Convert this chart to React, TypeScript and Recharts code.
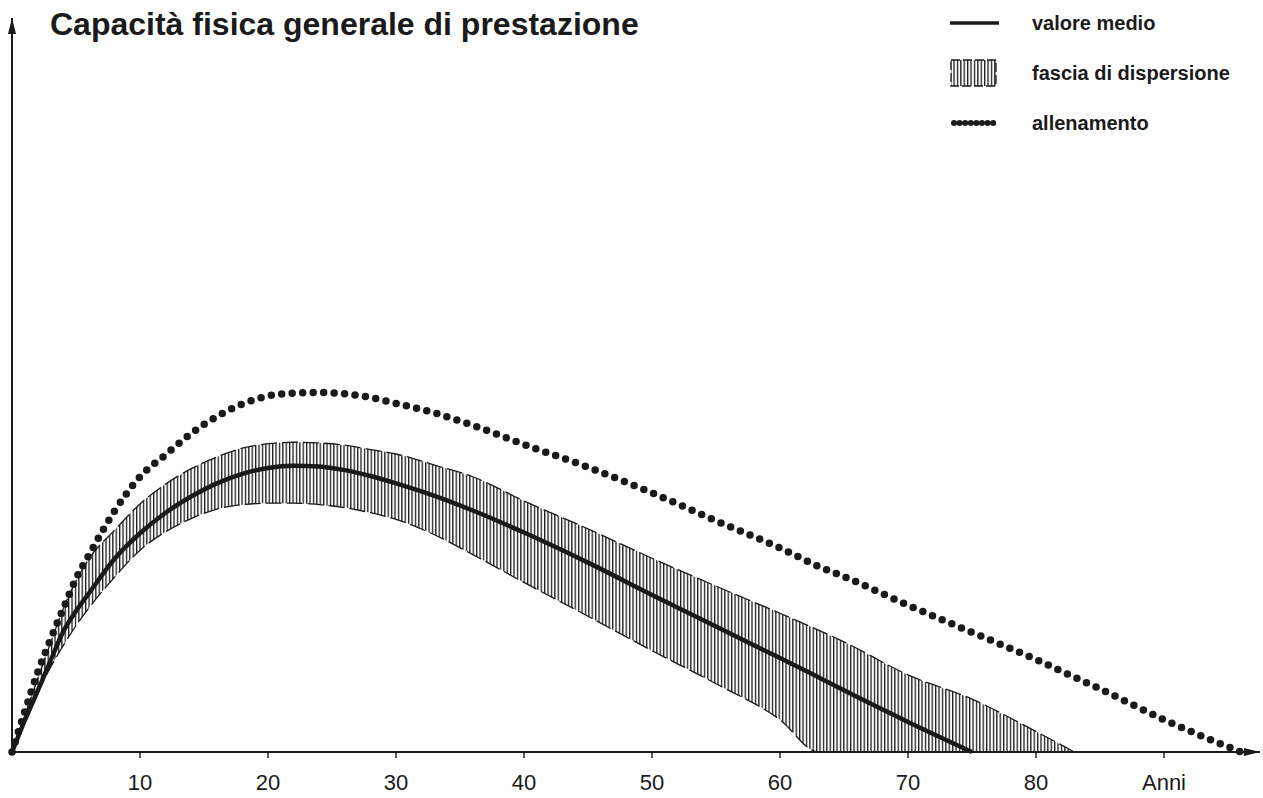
import { Area, ComposedChart, Line, XAxis, YAxis } from "recharts";

// age in years (x axis)
const ages = [0, 1, 2, 3, 4, 5, 6, 8, 10, 12, 14, 16, 18, 20, 22, 24, 26, 28, 30, 33, 36, 40, 45, 50, 55, 60, 63, 65, 70, 75, 80, 83, 85, 90, 96];

// "allenamento" (dotted curve)
const trainingValues = [0, 5.5, 10.8, 15.3, 19.5, 23.6, 26.8, 32.8, 37.5, 40.5, 43.4, 45.7, 47.4, 48.5, 48.9, 49.0, 48.8, 48.3, 47.5, 46.2, 44.5, 41.9, 38.8, 35.3, 31.5, 27.8, 25.3, 23.9, 20.0, 16.3, 12.6, 10.2, 8.6, 4.4, 0];

// "valore medio" (solid curve)
const meanValues = [0, 4.3, 8.3, 12.4, 16.4, 19.2, 21.6, 26.3, 29.8, 32.6, 34.8, 36.6, 37.9, 38.7, 39.0, 38.9, 38.4, 37.6, 36.6, 34.9, 32.9, 29.9, 25.8, 21.4, 17.1, 12.8, 10.2, 8.4, 4.1, 0, null, null, null, null, null];

// "fascia di dispersione" (hatched band)
const bandHigh = [0, 5, 10, 14.8, 19.5, 23.3, 26.3, 30.2, 33.8, 36.5, 38.6, 40.2, 41.4, 42.0, 42.2, 42.1, 41.8, 41.2, 40.6, 39.1, 37.5, 34.2, 30.4, 26.4, 22.6, 18.9, 16.6, 15.0, 10.5, 7.2, 2.8, 0, null, null, null];
const bandLow = [0, 4, 8, 11.5, 14.5, 17.2, 19.6, 23.8, 27.5, 30, 31.8, 33.1, 33.7, 33.9, 33.9, 33.7, 33.3, 32.6, 31.7, 29.6, 26.9, 23.1, 18.5, 13.8, 9.3, 4.4, 0, 0, 0, 0, 0, 0, null, null, null];

const xTicks = [10, 20, 30, 40, 50, 60, 70, 80, 90];
const xTickLabels = ["10", "20", "30", "40", "50", "60", "70", "80", "Anni"];

const title = "Capacità fisica generale di prestazione";
const legendLabels = ["valore medio", "fascia di dispersione", "allenamento"];

const rows = ages.map((age, i) => ({
  age,
  training: trainingValues[i],
  mean: meanValues[i],
  band: bandHigh[i] == null ? null : [bandLow[i], bandHigh[i]],
}));

const ink = "#1a1a1a";
const font = "'Liberation Sans', Arial, sans-serif";

function HatchSwatch() {
  return (
    <svg width={48} height={30}>
      <defs>
        <pattern id="hatchLegend" width="3.4" height="30" patternUnits="userSpaceOnUse">
          <rect x={0} y={0} width={1.3} height={30} fill={ink} />
        </pattern>
      </defs>
      <rect x={1} y={2} width={45} height={26} fill="url(#hatchLegend)" stroke={ink} strokeWidth={1.3} strokeDasharray="9 3" />
    </svg>
  );
}

export default function App() {
  return (
    <div style={{ position: "relative", width: 1263, height: 798, background: "#fff", fontFamily: font }}>
      <style>{`body{margin:0}`}</style>
      <ComposedChart width={1263} height={798} data={rows} margin={{ top: 18, right: 3, left: 11, bottom: 0 }}>
        <defs>
          <pattern id="hatch" width="3.4" height="10" patternUnits="userSpaceOnUse">
            <rect x={0} y={0} width={1.3} height={10} fill={ink} />
          </pattern>
          <marker id="arrowHead" viewBox="0 0 16 8" refX="16" refY="4" markerWidth="16" markerHeight="8" markerUnits="userSpaceOnUse" orient="auto-start-reverse">
            <path d="M0,0 L16,4 L0,8 Z" fill={ink} />
          </marker>
        </defs>
        <XAxis
          dataKey="age"
          type="number"
          domain={[0, 97.5]}
          ticks={xTicks}
          tickFormatter={(v: number) => xTickLabels[xTicks.indexOf(v)]}
          height={46}
          tickSize={6}
          tickMargin={16}
          axisLine={{ stroke: ink, strokeWidth: 2, markerEnd: "url(#arrowHead)" }}
          tickLine={{ stroke: ink, strokeWidth: 1.5 }}
          tick={{ fontSize: 22, fill: ink, fontFamily: font }}
        />
        <YAxis
          type="number"
          domain={[0, 100]}
          width={1}
          tick={false}
          tickLine={false}
          axisLine={{ stroke: ink, strokeWidth: 2, markerStart: "url(#arrowHead)" }}
        />
        <Area
          dataKey="band"
          type="monotone"
          fill="url(#hatch)"
          fillOpacity={1}
          stroke={ink}
          strokeWidth={1.3}
          strokeDasharray="16 5"
          isAnimationActive={false}
        />
        <Line dataKey="mean" type="monotone" stroke={ink} strokeWidth={4.5} dot={false} isAnimationActive={false} />
        <Line
          dataKey="training"
          type="monotone"
          stroke={ink}
          strokeWidth={7.5}
          strokeLinecap="round"
          strokeDasharray="0 10.5"
          dot={false}
          isAnimationActive={false}
        />
      </ComposedChart>

      <div style={{ position: "absolute", left: 50, top: 6, fontSize: 32, fontWeight: 700, color: ink, whiteSpace: "nowrap" }}>
        {title}
      </div>

      <div style={{ position: "absolute", left: 950, top: 8, width: 310 }}>
        <div style={{ display: "flex", alignItems: "center", height: 30 }}>
          <svg width={50} height={10}>
            <line x1={0} y1={5} x2={49} y2={5} stroke={ink} strokeWidth={3.5} />
          </svg>
          <span style={{ marginLeft: 32, fontSize: 20, fontWeight: 700, color: ink }}>{legendLabels[0]}</span>
        </div>
        <div style={{ display: "flex", alignItems: "center", height: 30, marginTop: 20 }}>
          <HatchSwatch />
          <span style={{ marginLeft: 34, fontSize: 20, fontWeight: 700, color: ink }}>{legendLabels[1]}</span>
        </div>
        <div style={{ display: "flex", alignItems: "center", height: 30, marginTop: 20 }}>
          <svg width={50} height={10}>
            <line x1={4} y1={5} x2={48} y2={5} stroke={ink} strokeWidth={6} strokeLinecap="round" strokeDasharray="0 5.6" />
          </svg>
          <span style={{ marginLeft: 32, fontSize: 20, fontWeight: 700, color: ink }}>{legendLabels[2]}</span>
        </div>
      </div>
    </div>
  );
}
